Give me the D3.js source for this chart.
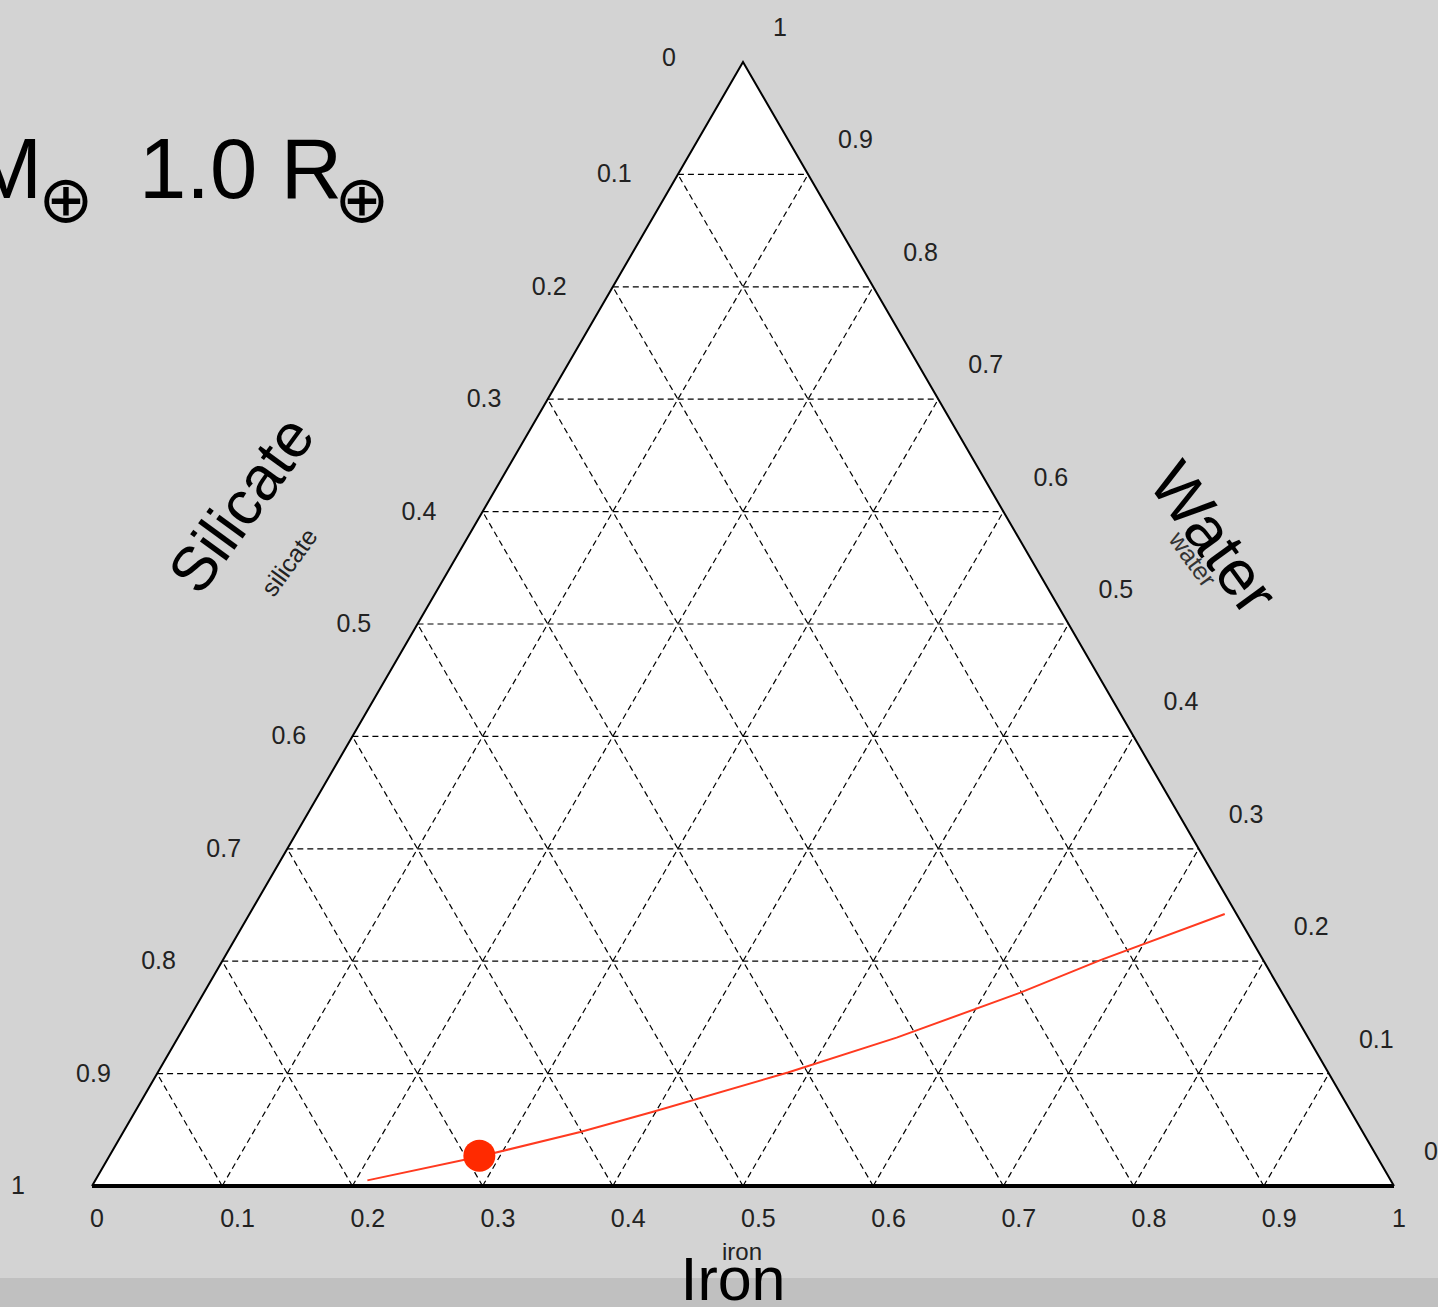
<!DOCTYPE html>
<html>
<head>
<meta charset="utf-8">
<script src="https://cdn.jsdelivr.net/npm/d3@7"></script>
<style>
  html, body { margin: 0; padding: 0; background: #d3d3d3; overflow: hidden; }
  svg { display: block; }
</style>
</head>
<body>
<script>
// composition track (iron fraction, water fraction)
const trackIron  = [0.209, 0.284, 0.351, 0.398, 0.484, 0.552, 0.627, 0.674, 0.749];
const trackWater = [0.005, 0.026, 0.048, 0.066, 0.101, 0.132, 0.172, 0.201, 0.242];
const dotIron = [0.284];
const dotWater = [0.027];
const gridLevels = [0.1, 0.2, 0.3, 0.4, 0.5, 0.6, 0.7, 0.8, 0.9];
const tickValues = [0, 0.1, 0.2, 0.3, 0.4, 0.5, 0.6, 0.7, 0.8, 0.9, 1];
const tickFmt = d => (d === 0 || d === 1) ? String(d) : d.toFixed(1);

document.addEventListener("DOMContentLoaded", () => {
    const width = 1438, height = 1307;
    const xScale = d3.scaleLinear().domain([0, 1]).range([92, 1394]);
    const yScale = d3.scaleLinear().domain([0, 1]).range([1186, 62]);
    // ternary -> screen: iron along the base, water up to the apex
    const px = (iron, water) => xScale(iron + water / 2);
    const py = (water) => yScale(water);

    const svg = d3.select("body").append("svg")
                  .attr("width", width)
                  .attr("height", height);

    svg.append("rect").attr("width", width).attr("height", height).style("fill", "#d3d3d3");
    svg.append("rect").attr("x", 0).attr("y", 1278).attr("width", width).attr("height", height - 1278)
       .style("fill", "#c0c0c0");

    // triangle
    svg.append("path")
       .attr("d", `M${px(0,0)},${py(0)}L${px(1,0)},${py(0)}L${px(0,1)},${py(1)}Z`)
       .style("fill", "white");

    // dashed grid
    const grid = svg.append("g")
                    .style("stroke", "black")
                    .style("stroke-width", 1.2)
                    .style("stroke-dasharray", "6,4")
                    .style("fill", "none");
    gridLevels.forEach(t => {
        // constant water
        grid.append("line").attr("x1", px(0, t)).attr("y1", py(t)).attr("x2", px(1 - t, t)).attr("y2", py(t));
        // constant iron
        grid.append("line").attr("x1", px(t, 0)).attr("y1", py(0)).attr("x2", px(t, 1 - t)).attr("y2", py(1 - t));
        // constant silicate
        grid.append("line").attr("x1", px(1 - t, 0)).attr("y1", py(0)).attr("x2", px(0, 1 - t)).attr("y2", py(1 - t));
    });

    // outline
    svg.append("path")
       .attr("d", `M${px(0,0)},${py(0)}L${px(0,1)},${py(1)}L${px(1,0)},${py(0)}`)
       .style("fill", "none").style("stroke", "black").style("stroke-width", 2);
    svg.append("line")
       .attr("x1", px(0,0)).attr("y1", py(0)).attr("x2", px(1,0)).attr("y2", py(0))
       .style("stroke", "black").style("stroke-width", 4);

    // tick labels
    const labels = svg.append("g")
                      .style("font-family", "'Liberation Sans', Arial, sans-serif")
                      .style("font-size", "25px")
                      .style("fill", "#222");
    // bottom: iron
    labels.selectAll(".tb").data(tickValues).enter().append("text")
          .attr("x", d => px(d, 0) - 2)
          .attr("y", py(0) + 41)
          .text(tickFmt);
    // left: silicate (0 at apex)
    labels.selectAll(".tl").data(tickValues).enter().append("text")
          .attr("x", d => px(0, 1 - d) - 81)
          .attr("y", d => py(1 - d) + (d === 0 ? 4 : 8))
          .text(tickFmt);
    // right: water
    labels.selectAll(".tr").data(tickValues).enter().append("text")
          .attr("x", d => px(1 - d, d) + 30)
          .attr("y", d => py(d) - 26)
          .text(tickFmt);

    // composition track
    const line = d3.line().x(d => px(d[0], d[1])).y(d => py(d[1]));
    svg.append("path")
       .datum(d3.zip(trackIron, trackWater))
       .attr("d", line)
       .style("fill", "none")
       .style("stroke", "#ff3a20")
       .style("stroke-width", 2);
    svg.selectAll(".dot").data(d3.zip(dotIron, dotWater)).enter().append("circle")
       .attr("cx", d => px(d[0], d[1]))
       .attr("cy", d => py(d[1]))
       .attr("r", 16)
       .style("fill", "#ff2a00");

    // axis titles
    const big = "'Liberation Sans', Arial, sans-serif";
    svg.append("text")
       .attr("transform", "translate(241,504) rotate(-54)")
       .attr("text-anchor", "middle").attr("dominant-baseline", "central")
       .style("font-family", big).style("font-size", "62px")
       .text("Silicate");
    svg.append("text")
       .attr("transform", "translate(289,562) rotate(-54)")
       .attr("text-anchor", "middle").attr("dominant-baseline", "central")
       .style("font-family", big).style("font-size", "25px").style("fill", "#222")
       .text("silicate");
    svg.append("text")
       .attr("transform", "translate(1214,538) rotate(54)")
       .attr("text-anchor", "middle").attr("dominant-baseline", "central")
       .style("font-family", big).style("font-size", "64px")
       .text("Water");
    svg.append("text")
       .attr("transform", "translate(1193,559) rotate(54)")
       .attr("text-anchor", "middle").attr("dominant-baseline", "central")
       .style("font-family", big).style("font-size", "25px").style("fill", "#333")
       .text("water");
    svg.append("text")
       .attr("x", 742).attr("y", 1260)
       .attr("text-anchor", "middle")
       .style("font-family", big).style("font-size", "24px").style("fill", "#222")
       .text("iron");
    svg.append("text")
       .attr("x", 733).attr("y", 1300)
       .attr("text-anchor", "middle")
       .style("font-family", big).style("font-size", "61px")
       .text("Iron");

    // title
    svg.append("text")
       .attr("x", 42).attr("y", 198)
       .attr("text-anchor", "end")
       .style("font-family", big).style("font-size", "85px")
       .text("M");
    svg.append("text")
       .attr("x", 139).attr("y", 198)
       .style("font-family", big).style("font-size", "85px")
       .text("1.0 R");
    svg.selectAll(".earth").data([66, 362]).enter().append("text")
       .attr("x", d => d).attr("y", 199)
       .attr("text-anchor", "middle").attr("dominant-baseline", "central")
       .style("font-family", "'DejaVu Sans', sans-serif").style("font-size", "66px")
       .text("\u2295");
});
</script>
</body>
</html>
